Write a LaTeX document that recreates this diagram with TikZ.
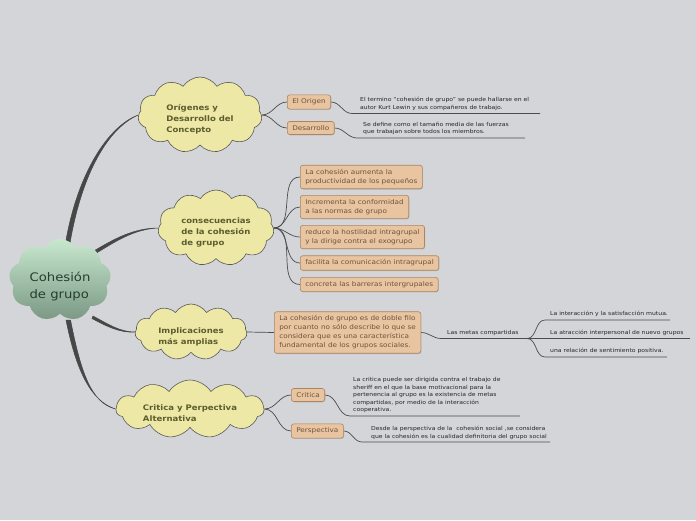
\documentclass[tikz,border=0pt]{standalone}
\usepackage{fontspec}
\setmainfont{DejaVu Sans}[FakeStretch=1.12]
\usetikzlibrary{shapes.symbols,shadows}
\definecolor{bgcol}{RGB}{212,213,217}
\definecolor{ideafill}{RGB}{237,232,166}
\definecolor{ideatext}{RGB}{92,92,45}
\definecolor{boxfill}{RGB}{232,196,160}
\definecolor{boxline}{RGB}{172,132,95}
\definecolor{boxtext}{RGB}{110,85,62}
\definecolor{coretop}{RGB}{200,232,206}
\definecolor{corebot}{RGB}{122,152,132}
\definecolor{coretext}{RGB}{38,62,48}
\pgfdeclarelayer{back}
\pgfsetlayers{back,main}
% cloud text sits a little below the middle of its cloud
\newcommand{\cloudtext}[2][4.5pt]{\raisebox{-#1}[\height][\depth]{\begin{tabular}{@{}l@{}}#2\end{tabular}}}

\begin{document}
\begin{tikzpicture}[x=1pt, y=-1pt,
    idea/.style={cloud, cloud puffs=11, cloud puff arc=115, cloud ignores aspect, draw=black!65, line width=0.6pt, fill=ideafill, text=ideatext, font=\fontsize{7.6}{11}\selectfont\bfseries, inner sep=0pt},
    topic/.style={rectangle, rounded corners=2.5pt, draw=boxline, line width=0.6pt, fill=boxfill, text=boxtext, font=\fontsize{6.5}{9}\selectfont, align=left, inner xsep=5pt, inner ysep=4pt, anchor=west, drop shadow={shadow xshift=0.6pt, shadow yshift=-0.8pt, opacity=0.35}},
    note/.style={anchor=south west, inner sep=0pt, font=\fontsize{5.45}{7.5}\selectfont, align=left, text=black!85},
    link/.style={draw=black!70, line width=0.7pt},
    trunk/.style={fill=black!72, draw=black!72, line width=0.5pt}
]
\begin{pgfonlayer}{back}
\fill[bgcol] (0,0) rectangle (696,520);
\end{pgfonlayer}

% main idea and sub ideas
\node[cloud, cloud puffs=9, cloud puff arc=120, cloud ignores aspect, minimum width=102pt, minimum height=82pt, top color=coretop, bottom color=corebot, text=coretext, font=\fontsize{11.8}{17}\selectfont, inner sep=0pt] (core) at (60,280) {\cloudtext[7pt]{Cohesión\\de grupo}};
\node[idea, minimum width=124pt, minimum height=76pt] (orig) at (200,115) {\cloudtext{Orígenes y\\Desarrollo del\\Concepto}};
\node[idea, minimum width=116pt, minimum height=76pt] (cons) at (216,228) {\cloudtext{consecuencias\\de la cohesión\\de grupo}};
\node[idea, minimum width=112pt, minimum height=56pt] (impl) at (191,332) {\cloudtext{Implicaciones\\más amplias}};
\node[idea, minimum width=148pt, minimum height=58pt] (crit) at (190,409) {\cloudtext{Critica y Perpectiva\\Alternativa}};

% topics
\node[topic] (eo) at (287,102) {El Origen};
\node[topic] (ds) at (287,128) {Desarrollo};
\node[topic] (c1) at (300,177) {La cohesión aumenta la\\productividad de los pequeños};
\node[topic] (c2) at (300,207) {Incrementa la conformidad\\a las normas de grupo};
\node[topic] (c3) at (300,237) {reduce la hostilidad intragrupal\\y la dirige contra el exogrupo};
\node[topic] (c4) at (300,263) {facilita la comunicación intragrupal};
\node[topic] (c5) at (300,284.5) {concreta las barreras intergrupales};
\node[topic] (dob) at (274,332.5) {La cohesión de grupo es de doble filo\\por cuanto no sólo describe lo que se\\considera que es una característica\\fundamental de los grupos sociales.};
\node[topic] (cr) at (291,395) {Critica};
\node[topic] (pe) at (291,431) {Perspectiva};

% notes
\node[note] (tEo) at (360,110.5) {El termino “cohesión de grupo” se puede hallarse en el\\autor Kurt Lewin y sus compañeros de trabajo.};
\node[note] (tDs) at (363,135) {Se define como el tamaño media de las fuerzas\\que trabajan sobre todos los miembros.};
\node[note] (tMe) at (447,335.5) {Las metas compartidas};
\node[note] (tM1) at (550,317) {La interacción y la satisfacción mutua.};
\node[note] (tM2) at (550,335.5) {La atracción interpersonal de nuevo grupos};
\node[note] (tM3) at (550,354) {una relación de sentimiento positiva.};
\node[note] (tCr) at (353,413) {La critica puede ser dirigida contra el trabajo de\\sheriff en el que la base motivacional para la\\pertenencia al grupo es la existencia de metas\\compartidas, por medio de la interacción\\cooperativa.};
\node[note] (tPe) at (371,439.5) {Desde la perspectiva de la~ cohesión social ,se considera\\que la cohesión es la cualidad definitoria del grupo social};

\coordinate (eoA) at (352,113.5);
\coordinate (eoB) at (540,113.5);
\coordinate (dsA) at (357,138);
\coordinate (dsB) at (525,138);
\coordinate (meA) at (441,338.5);
\coordinate (meB) at (527,338.5);
\coordinate (m1A) at (545,320);
\coordinate (m1B) at (670,320);
\coordinate (m2B) at (690,338.5);
\coordinate (m3A) at (545,357);
\coordinate (m3B) at (667,357);
\coordinate (crA) at (350,416);
\coordinate (crB) at (520,416);
\coordinate (peA) at (362,442);
\coordinate (peB) at (550,442);

\begin{pgfonlayer}{back}
\fill[trunk] ([shift={(5.5,-37)}]core.center) .. controls +(12,-70) and +(-30,11) .. (orig.west) .. controls +(-30,13) and +(12,-70) .. ([shift={(10,-37)}]core.center) -- cycle;
\fill[trunk] ([shift={(33,-28.5)}]core.center) .. controls +(20,-12) and +(-25,0) .. (cons.west) .. controls +(-25,1) and +(20,-12) .. ([shift={(34,-25.5)}]core.center) -- cycle;
\fill[trunk] ([shift={(33,36)}]core.center) .. controls +(15,8) and +(-15,0) .. (impl.west) .. controls +(-15,1) and +(15,8) .. ([shift={(32,38.5)}]core.center) -- cycle;
\fill[trunk] ([shift={(6,40)}]core.center) .. controls +(10,50) and +(-25,-8) .. (crit.west) .. controls +(-25,-6) and +(10,50) .. ([shift={(10.5,40)}]core.center) -- cycle;

\draw[link] (orig.east) to[out=0, in=180] (eo.west);
\draw[link] (orig.east) to[out=0, in=180] (ds.west);
\foreach \b in {c1,c2,c3,c4,c5}
  \draw[link] (cons.east) to[out=0, in=180] (\b.west);
\draw[link] (impl.east) -- (dob.west);
\draw[link] (crit.east) to[out=0, in=180] (cr.west);
\draw[link] (crit.east) to[out=0, in=180] (pe.west);

\draw[link] (eo.east) to[out=0, in=180] (eoA) -- (eoB);
\draw[link] (ds.east) to[out=0, in=180] (dsA) -- (dsB);
\draw[link] (dob.east) to[out=0, in=180] (meA) -- (meB);
\draw[link] (meB) to[out=0, in=180] (m1A) -- (m1B);
\draw[link] (meB) -- (m2B);
\draw[link] (meB) to[out=0, in=180] (m3A) -- (m3B);
\draw[link] (cr.east) to[out=0, in=180] (crA) -- (crB);
\draw[link] (pe.east) to[out=0, in=180] (peA) -- (peB);
\end{pgfonlayer}
\end{tikzpicture}
\end{document}
